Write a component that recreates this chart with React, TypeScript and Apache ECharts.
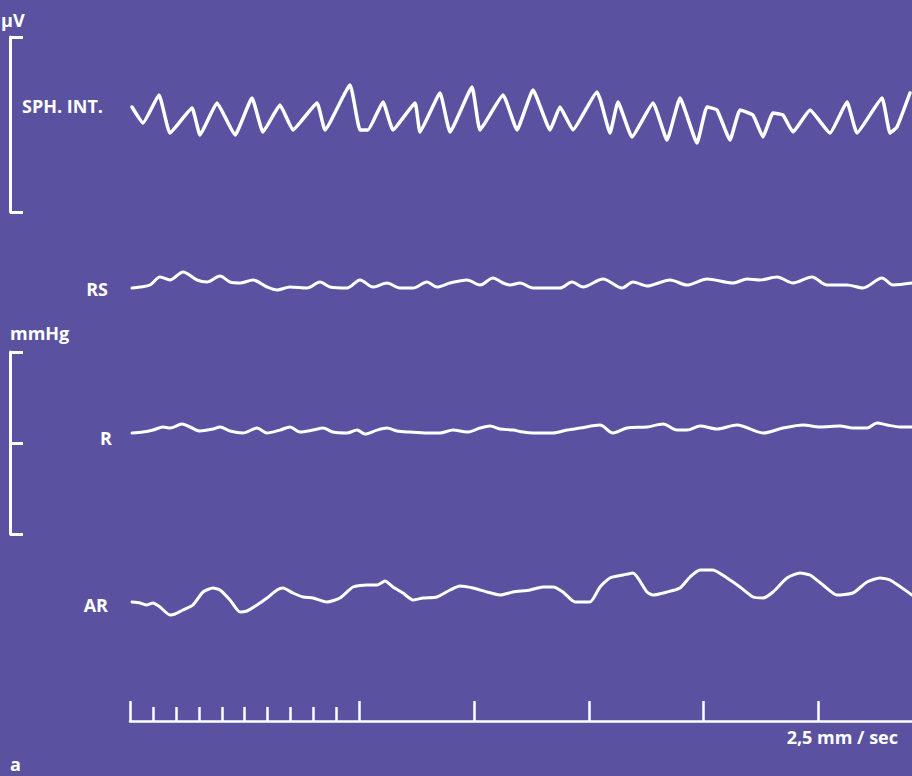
import React, { useEffect, useRef } from "react";
import * as echarts from "echarts";

// Recording samples (sample index along the paper) and amplitudes (% of each channel's range)
const SPH_T = [2,13,29,40,62,70,87,105,122,133,150,163,187,195,220,230,238,253,263,285,290,310,320,342,350,373,387,403,420,430,443,467,471,480,488,502,523,537,550,567,577,587,600,610,623,633,643,653,663,680,700,717,727,752,760,767,780];
const SPH_V = [60.0,50.9,66.9,45.1,59.4,44.0,62.3,44.0,65.1,45.7,61.1,46.9,62.3,46.9,72.6,46.9,46.9,62.9,46.9,62.3,45.7,68.0,45.7,71.4,46.9,66.9,46.9,69.7,46.9,60.0,46.9,68.6,62.9,45.1,62.9,42.9,62.3,41.1,65.1,39.4,60.0,58.3,41.1,58.3,55.4,42.9,56.6,55.4,45.7,58.3,45.1,62.9,45.1,65.1,45.1,48.6,68.0];

const RS_T = [2,10,20,30,40,53,67,77,90,100,110,123,137,147,160,177,190,200,217,230,243,257,270,283,297,307,320,337,350,363,373,380,390,403,430,442,453,473,492,503,517,540,557,577,603,617,630,647,663,682,697,717,733,752,763,782];
const RS_V = [32,33,35,43,40,48,40,38,44,38,37,40,33,30,33,32,38,33,32,40,33,37,32,32,38,33,37,40,35,42,37,35,37,32,32,38,33,41,32,38,34,40,35,41,37,41,40,43,37,43,35,35,32,42,35,37];

const R_T = [2,13,23,33,40,52,60,70,83,90,100,113,127,137,150,160,170,183,193,203,217,227,235,247,257,267,280,297,310,323,337,350,360,370,383,393,403,423,437,450,470,483,497,517,533,547,557,570,587,607,633,653,673,690,710,723,737,747,757,770,782];
const R_V = [55.5,56.0,57.1,58.8,58.2,60.4,58.8,56.6,57.7,58.8,56.6,55.5,58.2,55.5,57.1,58.8,56.0,57.1,58.2,56.0,55.5,57.1,54.9,57.1,58.2,56.6,56.0,55.5,55.5,57.1,56.0,58.2,59.3,57.7,57.1,56.0,55.5,55.5,57.1,58.2,59.9,55.5,58.2,58.8,60.4,57.1,57.1,59.3,57.7,59.9,55.5,58.2,59.9,58.8,59.3,58.2,58.2,61.0,59.9,58.8,58.8];

const AR_T = [2,10,17,23,30,40,45,53,63,73,83,90,100,110,117,127,137,147,153,163,173,183,197,210,223,237,247,255,263,273,283,293,307,320,330,343,357,370,383,400,413,423,433,445,460,470,480,493,503,517,523,537,550,560,570,583,597,610,623,633,643,657,670,680,693,707,723,737,750,760,782];
const AR_V = [28,27,25,27,23,15,16,20,25,38,42,40,30,18,19,25,32,40,42,37,33,32,28,32,43,45,45,49,43,37,30,32,33,40,44,42,38,35,38,40,43,43,38,28,28,43,52,55,57,38,35,38,42,53,60,60,52,43,33,32,38,52,57,55,45,35,37,48,52,50,35];

// Time scale (seconds)
const TIME_MAX = 6.818;
const MINOR_TICKS = [0.2,0.4,0.6,0.8,1.0,1.2,1.4,1.6,1.8];
const MAJOR_TICKS = [0,2,3,4,5,6];

const LABELS = {
  unitV: "µV",
  sph: "SPH. INT.",
  rs: "RS",
  mmhg: "mmHg",
  r: "R",
  ar: "AR",
  speed: "2,5 mm / sec",
  panel: "a",
};

const BG = "#5a52a0";
const WHITE = "#ffffff";
const FONT = 'bold 18px "Open Sans", sans-serif';

const pairs = (t: number[], v: number[]) => t.map((x, i) => [x, v[i]]);

export default function App() {
  const ref = useRef<HTMLDivElement>(null);
  useEffect(() => {
    if (!ref.current) return;
    const chart = echarts.init(ref.current, undefined, { renderer: "svg" });
    const bracketAxis = (gridIndex: number, interval: number) => ({
      type: "value",
      gridIndex,
      min: 0,
      max: 100,
      interval,
      position: "left",
      offset: 120,
      axisLine: { show: true, onZero: false, lineStyle: { color: WHITE, width: 3 } },
      axisTick: { show: true, inside: true, length: 13, lineStyle: { color: WHITE, width: 3 } },
      axisLabel: { show: false },
      splitLine: { show: false },
    });
    const hiddenY = (gridIndex: number) => ({
      type: "value", gridIndex, min: 0, max: 100, show: false,
    });
    const hiddenX = (gridIndex: number) => ({
      type: "value", gridIndex, min: 0, max: 782, show: false,
    });
    const trace = (idx: number, data: number[][], smooth: number, width: number) => ({
      type: "line",
      xAxisIndex: idx,
      yAxisIndex: idx,
      data,
      showSymbol: false,
      symbol: "none",
      smooth,
      lineStyle: { color: WHITE, width, cap: "round", join: "round" },
      silent: true,
    });
    const text = (x: number, y: number, t: string, align = "left") => ({
      type: "text",
      x,
      y,
      silent: true,
      style: { text: t, fill: WHITE, font: FONT, align, verticalAlign: "middle" },
    });
    chart.setOption({
      animation: false,
      backgroundColor: BG,
      grid: [
        { left: 130, right: 0, top: 37, height: 175 },
        { left: 130, right: 0, top: 220, height: 100 },
        { left: 130, right: 0, top: 352, height: 182 },
        { left: 130, right: 0, top: 530, height: 100 },
        { left: 130, right: 0, top: 690, height: 31 },
      ],
      xAxis: [
        hiddenX(0),
        hiddenX(1),
        hiddenX(2),
        hiddenX(3),
        {
          type: "value",
          gridIndex: 4,
          min: 0,
          max: TIME_MAX,
          position: "bottom",
          axisLine: { show: true, onZero: false, lineStyle: { color: WHITE, width: 2.5 } },
          axisTick: { show: true, inside: true, length: 14, customValues: MINOR_TICKS, lineStyle: { color: WHITE, width: 2.5 } },
          axisLabel: { show: false },
          splitLine: { show: false },
        },
        {
          type: "value",
          gridIndex: 4,
          min: 0,
          max: TIME_MAX,
          position: "bottom",
          axisLine: { show: false, onZero: false },
          axisTick: { show: true, inside: true, length: 20, customValues: MAJOR_TICKS, lineStyle: { color: WHITE, width: 2.5 } },
          axisLabel: { show: false },
          splitLine: { show: false },
        },
      ],
      yAxis: [
        bracketAxis(0, 100),
        hiddenY(1),
        bracketAxis(2, 50),
        hiddenY(3),
        { type: "value", gridIndex: 4, min: 0, max: 1, show: false },
      ],
      series: [
        trace(0, pairs(SPH_T, SPH_V), 0.12, 3.5),
        trace(1, pairs(RS_T, RS_V), 0.3, 3),
        trace(2, pairs(R_T, R_V), 0.3, 3),
        trace(3, pairs(AR_T, AR_V), 0.2, 3),
      ],
      graphic: [
        text(1, 20, LABELS.unitV),
        text(22, 106, LABELS.sph),
        text(108, 289, LABELS.rs, "right"),
        text(10, 333, LABELS.mmhg),
        text(112, 438, LABELS.r, "right"),
        text(108, 605, LABELS.ar, "right"),
        text(898, 737, LABELS.speed, "right"),
        text(10, 764, LABELS.panel),
      ],
    });
    return () => chart.dispose();
  }, []);
  return (
    <div
      ref={ref}
      style={{ position: "absolute", left: 0, top: 0, width: 912, height: 776 }}
    />
  );
}
